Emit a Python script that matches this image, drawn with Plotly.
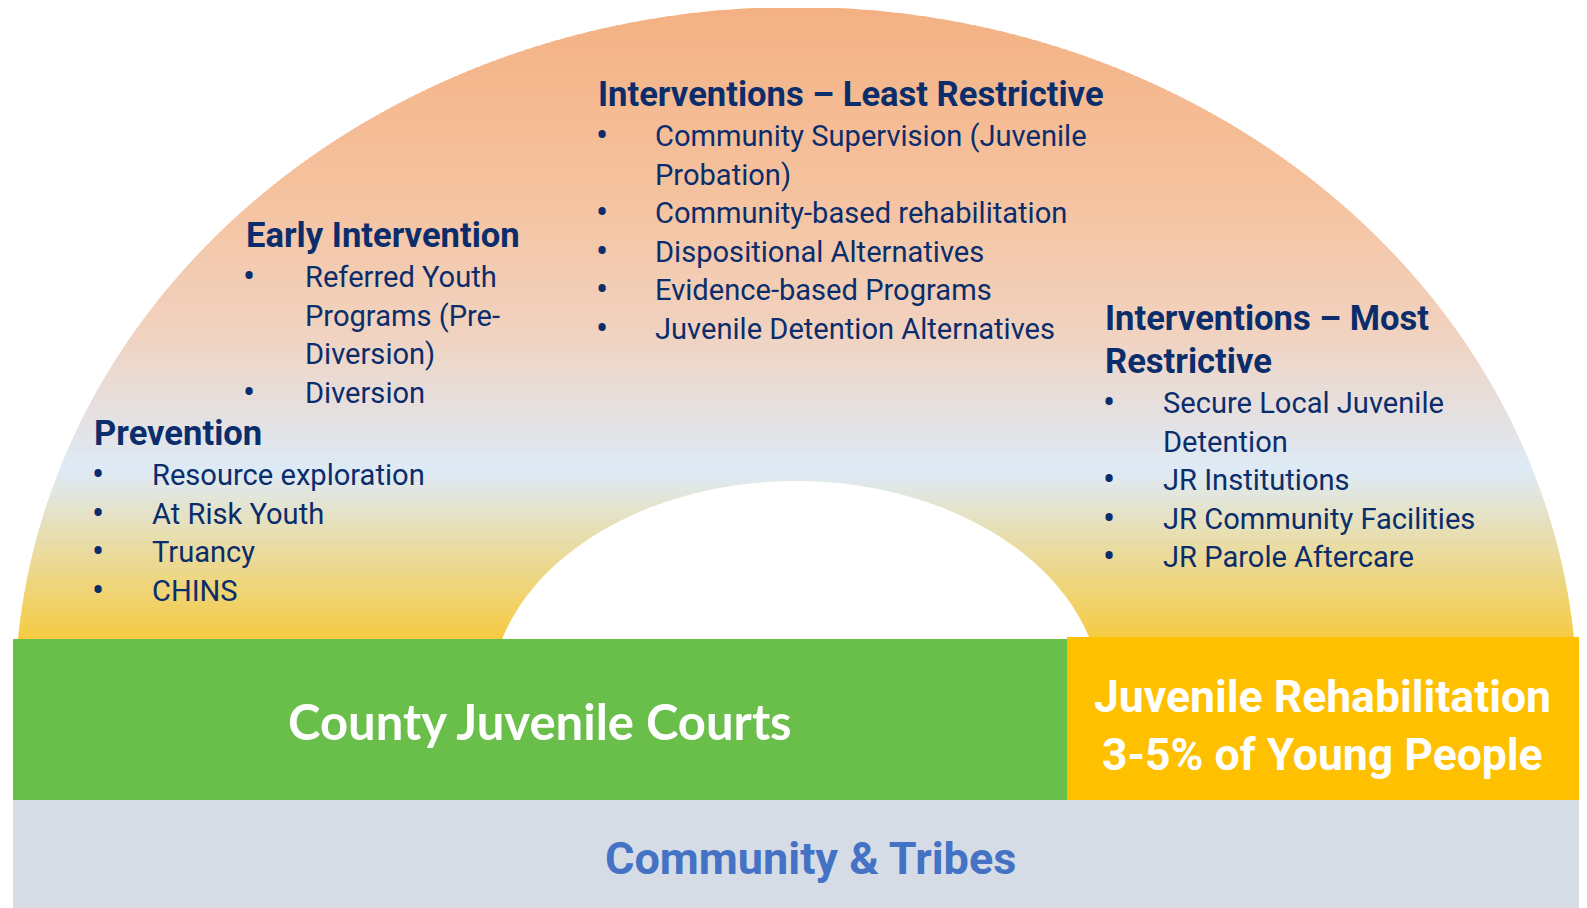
import numpy as np
import plotly.graph_objects as go

# ---- text content -------------------------------------------------------
prevention_title = ["Prevention"]
prevention_items = [["Resource exploration"], ["At Risk Youth"], ["Truancy"], ["CHINS"]]

early_title = ["Early Intervention"]
early_items = [["Referred Youth", "Programs (Pre-", "Diversion)"], ["Diversion"]]

least_title = ["Interventions \u2013 Least Restrictive"]
least_items = [["Community Supervision (Juvenile", "Probation)"],
               ["Community-based rehabilitation"],
               ["Dispositional Alternatives"],
               ["Evidence-based Programs"],
               ["Juvenile Detention Alternatives"]]

most_title = ["Interventions \u2013 Most", "Restrictive"]
most_items = [["Secure Local Juvenile", "Detention"],
              ["JR Institutions"],
              ["JR Community Facilities"],
              ["JR Parole Aftercare"]]

courts_label = "County Juvenile Courts"
jr_label = ["Juvenile Rehabilitation", "3-5% of Young People"]
community_label = "Community & Tribes"

# gradient of the arch, top to bottom
grad_y = [7, 200, 330, 400, 470, 700]
grad_colors = ["#F4B183", "#F5C3A0", "#F1D2BF", "#E7DEDB", "#DEEAF6", "#FFC000"]

W, H = 1587, 908
OFF = 8  # page body margin, so data units == page pixels
NAVY = "#0B2D6B"
BODY = "Roboto"

fig = go.Figure()
fig.add_trace(go.Scatter(x=[0], y=[0], mode="markers", marker=dict(opacity=0),
                         hoverinfo="skip"))


def hex_rgb(h):
    h = h.lstrip("#")
    return np.array([int(h[i:i + 2], 16) for i in (0, 2, 4)], dtype=float)


def grad_at(y):
    rgb = [np.interp(y, grad_y, [hex_rgb(c)[k] for c in grad_colors]) for k in range(3)]
    return "rgb(%d,%d,%d)" % tuple(int(round(v)) for v in rgb)


# outer ellipse of the arch
cx, cy, rx, ry = 796, 700, 781, 693
arch_top, arch_bottom = cy - ry, 640


def half_w(y):
    d = (cy - y) / ry
    return rx * np.sqrt(max(0.0, 1 - d * d))


shapes = []
step = 3
ys = np.arange(arch_top, arch_bottom, step)
for ya in ys:
    yb = min(ya + step + 1, arch_bottom)
    yy = np.linspace(ya, yb, 6)
    left = [(cx - half_w(v), v) for v in yy]
    right = [(cx + half_w(v), v) for v in yy[::-1]]
    pts = left + right
    path = "M " + " L ".join("%.2f,%.2f" % p for p in pts) + " Z"
    shapes.append(dict(type="path", path=path, xref="x", yref="y",
                       fillcolor=grad_at(ya + step / 2), line=dict(width=0),
                       layer="below"))

# inner hole of the arch
icx, icy, irx, iry = 796, 700, 306, 219
shapes.append(dict(type="circle", xref="x", yref="y",
                   x0=icx - irx, x1=icx + irx, y0=icy - iry, y1=icy + iry,
                   fillcolor="white", line=dict(width=0), layer="below"))

# base boxes
shapes.append(dict(type="rect", xref="x", yref="y", x0=13, x1=1067, y0=639, y1=800,
                   fillcolor="#6ABF4B", line=dict(width=0), layer="below"))
shapes.append(dict(type="rect", xref="x", yref="y", x0=1067, x1=1579, y0=637, y1=800,
                   fillcolor="#FFC000", line=dict(width=0), layer="below"))
shapes.append(dict(type="rect", xref="x", yref="y", x0=13, x1=1579, y0=800, y1=920,
                   fillcolor="#D6DCE5", line=dict(width=0), layer="below"))

annotations = []


def add_text(x, y, text, size, bold=False, color=NAVY, anchor="left", family=BODY):
    annotations.append(dict(
        x=x, y=y, xref="x", yref="y", text="<b>%s</b>" % text if bold else text,
        showarrow=False, xanchor=anchor, yanchor="middle",
        font=dict(family=family, size=size, color=color)))


def add_group(title, items, tx, ty, bx, txt_x, title_gap=43, gap=38.5, first_gap=42):
    y = ty
    for i, line in enumerate(title):
        add_text(tx, y, line, 34.6, bold=True)
        if i < len(title) - 1:
            y += title_gap
    y += first_gap
    for item in items:
        add_text(bx, y, "\u2022", 36, anchor="center")
        for line in item:
            add_text(txt_x, y, line, 29.1)
            y += gap


add_group(prevention_title, prevention_items, 92, 433, 98, 150)
add_group(early_title, early_items, 244, 235, 249, 303)
add_group(least_title, least_items, 596, 94, 602, 653)
add_group(most_title, most_items, 1103, 318, 1109, 1161)

add_text(540, 721, courts_label, 49, bold=True, color="white", anchor="center", family="Lato")
add_text(1322, 697, jr_label[0], 44.5, bold=True, color="white", anchor="center")
add_text(1322, 755, jr_label[1], 44.5, bold=True, color="white", anchor="center")
add_text(810, 858, community_label, 45, bold=True, color="#4472C4", anchor="center")

fig.update_layout(
    width=W, height=H,
    margin=dict(l=0, r=0, t=0, b=0),
    paper_bgcolor="white", plot_bgcolor="white",
    showlegend=False,
    xaxis=dict(range=[OFF, W + OFF], visible=False, fixedrange=True),
    yaxis=dict(range=[H + OFF, OFF], visible=False, fixedrange=True),
    shapes=shapes,
    annotations=annotations,
)

fig.write_html("out.html")
